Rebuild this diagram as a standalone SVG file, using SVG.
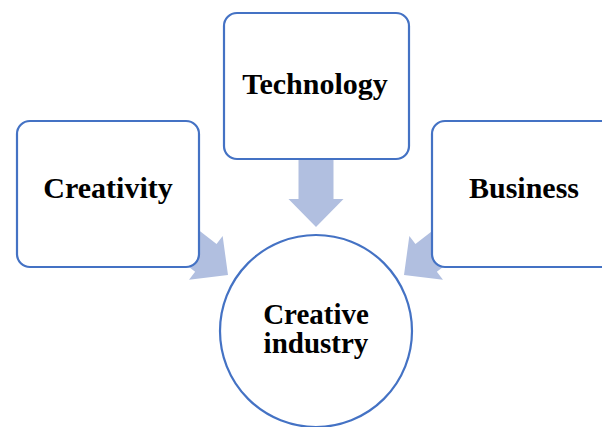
<svg xmlns="http://www.w3.org/2000/svg" width="602" height="427" viewBox="0 0 602 427">
  <defs>
    <style>
      .box { fill: #ffffff; stroke: #4472C4; stroke-width: 2.2; }
      .arrow { fill: #B1BFE0; }
      .label { font-family: 'Liberation Serif', 'DejaVu Serif', 'Times New Roman', Times, serif; font-weight: 700; font-size: 30px; fill: #000000; text-anchor: middle; }
      .center-label { font-size: 29px; }
    </style>
    <!-- block arrow pointing along +x, tip at origin -->
    <path id="blockArrow" d="M0,0 L-28,-27.5 L-28,-17.5 L-72,-17.5 L-72,17.5 L-28,17.5 L-28,27.5 Z"/>
  </defs>
  <rect width="602" height="427" fill="#ffffff"/>

  <g id="connectors">
    <use href="#blockArrow" class="arrow" transform="translate(316,227) rotate(90)"/>
    <use href="#blockArrow" class="arrow" transform="translate(228,275) rotate(37.7)"/>
    <use href="#blockArrow" class="arrow" transform="translate(404,275) rotate(142.3)"/>
  </g>

  <g id="technology">
    <rect class="box" x="224" y="13" width="185" height="146" rx="13"/>
    <text class="label" font-family="Liberation Serif, serif" x="315" y="94">Technology</text>
  </g>

  <g id="creativity">
    <rect class="box" x="17" y="121" width="182" height="146" rx="13"/>
    <text class="label" font-family="Liberation Serif, serif" x="108" y="198">Creativity</text>
  </g>

  <g id="business">
    <rect class="box" x="432" y="121" width="185" height="146" rx="13"/>
    <text class="label" font-family="Liberation Serif, serif" x="524" y="198">Business</text>
  </g>

  <g id="creative-industry">
    <circle class="box" cx="316" cy="331" r="96"/>
    <text class="label center-label" font-family="Liberation Serif, serif" x="316" y="324">Creative</text>
    <text class="label center-label" font-family="Liberation Serif, serif" x="316" y="353">industry</text>
  </g>
</svg>
